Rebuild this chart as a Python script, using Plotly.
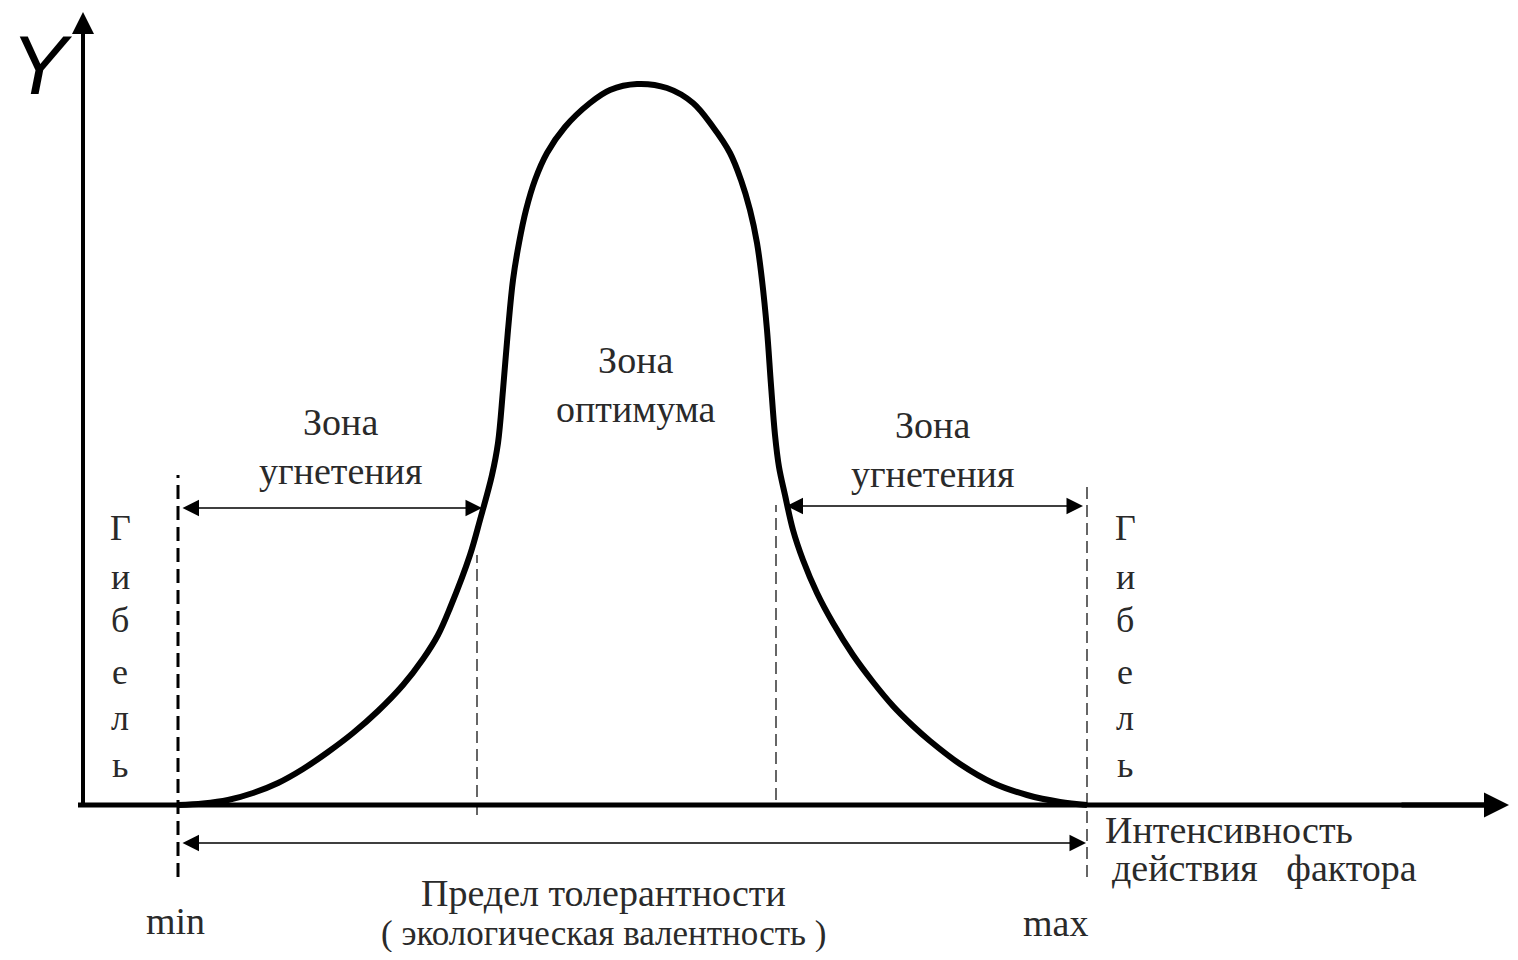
import plotly.graph_objects as go

# tolerance curve, x = factor intensity, y = response height above the axis
curve_x = [178, 203, 228, 253, 278, 303, 328, 353, 378, 403, 423, 438, 450, 470, 480, 492, 498, 503, 508, 513,
           519, 526, 535, 547, 565, 590, 610, 637, 667, 693, 713, 730, 741, 750, 757, 762, 767, 771, 775, 779,
           785, 793, 803, 817, 833, 853, 873, 893, 913, 930, 960, 993, 1027, 1060, 1087]
curve_y = [0, 1.5, 5, 12, 22, 36, 53, 72, 94, 120, 146, 170, 197, 250, 285, 330, 362, 415, 475, 525,
           562, 595, 625, 652, 678, 702, 715, 721, 717, 702, 678, 652, 625, 595, 562, 525, 475, 420, 370, 338,
           310, 275, 245, 212, 182, 150, 123, 99, 79, 64, 41, 22, 10, 3, 0]

x_min, x_max = 178, 1087
opt_left, opt_right = 477, 776

zone_labels = ['Зона<br>угнетения', 'Зона<br>оптимума', 'Зона<br>угнетения']
gibel = ['Г', 'и', 'б', 'е', 'л', 'ь']

FONT = 'Liberation Serif'
INK = '#2a2a2a'

fig = go.Figure()

fig.add_trace(go.Scatter(x=curve_x, y=curve_y, mode='lines',
                         line=dict(color='black', width=6, shape='spline', smoothing=1.0),
                         hoverinfo='skip'))

shapes = []
# axes
shapes.append(dict(type='line', x0=78, x1=1500, y0=0, y1=0, line=dict(color='black', width=5)))
shapes.append(dict(type='line', x0=83, x1=83, y0=0, y1=780, line=dict(color='black', width=4)))
# min / max dashed limits
shapes.append(dict(type='line', x0=x_min, x1=x_min, y0=-72, y1=330,
                   line=dict(color='black', width=3, dash='14px,7px')))
shapes.append(dict(type='line', x0=x_max, x1=x_max, y0=-72, y1=320,
                   line=dict(color='black', width=1.2, dash='12px,6px')))
# optimum boundaries
shapes.append(dict(type='line', x0=opt_left, x1=opt_left, y0=-10, y1=250,
                   line=dict(color='black', width=1.2, dash='12px,6px')))
shapes.append(dict(type='line', x0=opt_right, x1=opt_right, y0=5, y1=300,
                   line=dict(color='black', width=1.2, dash='12px,6px')))

annotations = []


def arrow(x0, y0, x1, y1, both=True, width=1.5, size=2.2):
    annotations.append(dict(x=x1, y=y1, ax=x0, ay=y0, xref='x', yref='y', axref='x', ayref='y',
                            text='', showarrow=True, arrowhead=2, arrowsize=size, arrowwidth=width,
                            arrowcolor='black', arrowside='end+start' if both else 'end'))


# axis arrow heads
arrow(83, 700, 83, 793, both=False, width=4, size=1.1)
arrow(1400, 0, 1509, 0, both=False, width=5, size=1.0)
# zone arrows
arrow(181, 297, 482, 297)
arrow(785, 299, 1083, 299)
arrow(181, -38, 1086, -38)


def label(x, y, text, size=38, xanchor='center', align='center'):
    annotations.append(dict(x=x, y=y, xref='x', yref='y', text=text, showarrow=False,
                            xanchor=xanchor, yanchor='middle', align=align,
                            font=dict(family=FONT, size=size, color=INK)))


label(340, 359, zone_labels[0])
label(636, 421, zone_labels[1])
label(932, 356, zone_labels[2])

gibel_y = [277, 228, 185, 133, 87, 40]
for ch, gy in zip(gibel, gibel_y):
    label(120, gy, ch, size=36)
    label(1125, gy, ch, size=36)

label(1103, -25, 'Интенсивность', xanchor='left')
label(1110, -63, 'действия   фактора', xanchor='left')
label(175, -116, 'min')
label(1055, -118, 'max')
label(603, -88, 'Предел толерантности')
label(603, -128, '( экологическая валентность )', size=35)

annotations.append(dict(x=42, y=740, xref='x', yref='y', text='Y', showarrow=False,
                        font=dict(family='Liberation Sans Narrow, Liberation Sans', size=84,
                                  color='black', style='italic')))

# page body keeps an 8px margin, so the figure is 16px smaller and the ranges start at 8
fig.update_layout(
    width=1502, height=944,
    margin=dict(l=0, r=0, t=0, b=0),
    plot_bgcolor='white', paper_bgcolor='white',
    showlegend=False,
    shapes=shapes,
    annotations=annotations,
    xaxis=dict(range=[8, 1510], visible=False, fixedrange=True),
    yaxis=dict(range=[-147, 797], visible=False, fixedrange=True),
)

fig.write_html('out.html')
